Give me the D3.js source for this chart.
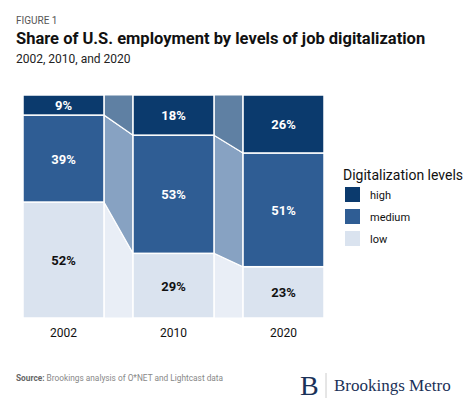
<!DOCTYPE html>
<html><head><meta charset="utf-8">
<script src="https://cdn.jsdelivr.net/npm/d3@7"></script>
<style>body{margin:0;background:#fff;font-family:Roboto,sans-serif}</style>
</head><body><svg id="c" width="474" height="413"></svg>
<script>
var years = ['2002', '2010', '2020'];
var levels = ['low', 'medium', 'high'];
var low = [52, 29, 23];
var medium = [39, 53, 51];
var high = [9, 18, 26];

var colors = {high: '#0b3a6d', medium: '#2f5d94', low: '#dae3ef'};
var linkColors = {high: '#5f80a3', medium: '#87a2c2', low: '#e9eef6'};

var svg = d3.select('#c');
svg.append('text').attr('x', 16).attr('y', 24).attr('font-size', 10).attr('fill', '#555').text('FIGURE 1');
svg.append('text').attr('x', 16).attr('y', 44).attr('font-size', 16.5).attr('font-weight', 'bold').attr('fill', '#111')
  .text('Share of U.S. employment by levels of job digitalization');
svg.append('text').attr('x', 16).attr('y', 63).attr('font-size', 12).attr('fill', '#222').text('2002, 2010, and 2020');

var x = d3.scaleBand().domain(years).range([23, 324]).paddingInner(0.264).paddingOuter(0);
var y = d3.scaleLinear().domain([0, 100]).range([318, 95]);

var rows = years.map(function(yr, i){ return {year: yr, low: low[i], medium: medium[i], high: high[i]}; });
var series = d3.stack().keys(levels)(rows);
var g = svg.append('g');

// connectors between bars
series.forEach(function(s){
  for (var i = 0; i < years.length - 1; i++) {
    var x0 = x(years[i]) + x.bandwidth(), x1 = x(years[i + 1]);
    var a = s[i], b = s[i + 1];
    g.append('path')
      .attr('d', 'M' + x0 + ',' + y(a[1]) + 'L' + x1 + ',' + y(b[1]) + 'L' + x1 + ',' + y(b[0]) + 'L' + x0 + ',' + y(a[0]) + 'Z')
      .attr('fill', linkColors[s.key]).attr('stroke', '#fff').attr('stroke-width', 1.2);
  }
});

series.forEach(function(s){
  g.selectAll(null).data(s).enter().append('rect')
    .attr('x', function(d){ return x(d.data.year); })
    .attr('y', function(d){ return y(d[1]); })
    .attr('width', x.bandwidth())
    .attr('height', function(d){ return y(d[0]) - y(d[1]); })
    .attr('fill', colors[s.key]).attr('stroke', '#fff').attr('stroke-width', 1.5);
  g.selectAll(null).data(s).enter().append('text')
    .attr('x', function(d){ return x(d.data.year) + x.bandwidth() / 2; })
    .attr('y', function(d){ return (y(d[0]) + y(d[1])) / 2 + 5; })
    .attr('text-anchor', 'middle').attr('font-size', 13).attr('font-weight', 'bold')
    .attr('fill', s.key === 'low' ? '#111' : '#fff')
    .text(function(d){ return d.data[s.key] + '%'; });
});

var xAxis = svg.append('g').attr('transform', 'translate(0,318)')
  .call(d3.axisBottom(x).tickSize(0).tickPadding(10));
xAxis.select('.domain').remove();
xAxis.selectAll('text').attr('font-size', 12).attr('font-family', 'Roboto').attr('fill', '#111');

// legend
var lg = svg.append('g').attr('transform', 'translate(343,0)');
lg.append('text').attr('x', 0).attr('y', 180).attr('font-size', 14).attr('fill', '#111').text('Digitalization levels');
['high', 'medium', 'low'].forEach(function(k, i){
  lg.append('rect').attr('x', 2).attr('y', 187 + i * 22).attr('width', 15).attr('height', 15).attr('fill', colors[k]);
  lg.append('text').attr('x', 27).attr('y', 199 + i * 22).attr('font-size', 11).attr('fill', '#111').text(k);
});

svg.append('text').attr('x', 16).attr('y', 381).attr('font-size', 8.3).attr('fill', '#888')
  .html('<tspan font-weight="bold" fill="#666">Source:</tspan> Brookings analysis of O*NET and Lightcast data');
svg.append('text').attr('x', 300).attr('y', 395).attr('font-size', 28).attr('font-family', 'Liberation Serif').attr('fill', '#1b3158').text('B');
svg.append('line').attr('x1', 326).attr('x2', 326).attr('y1', 373).attr('y2', 398).attr('stroke', '#ccc');
svg.append('text').attr('x', 334).attr('y', 391).attr('font-size', 17).attr('font-family', 'Liberation Serif').attr('fill', '#1b3158').text('Brookings Metro');
</script></body></html>
